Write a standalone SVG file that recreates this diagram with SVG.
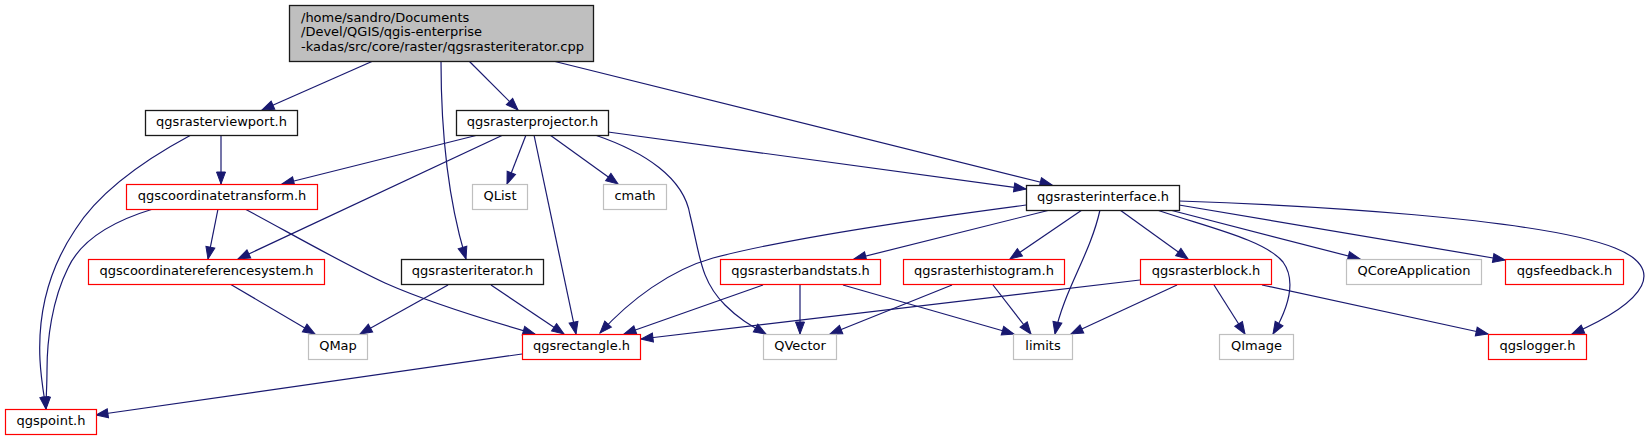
<svg xmlns="http://www.w3.org/2000/svg" width="1647" height="440" viewBox="0 0 1647 440">
<style>
text{font-family:"DejaVu Sans","Liberation Sans",sans-serif;font-size:13px;fill:#000}
.n text{text-anchor:middle}
.b{fill:#fff;stroke:#1a1a1a;stroke-width:1.3}
.r{fill:#fff;stroke:#ff0000;stroke-width:1.2}
.g{fill:#fff;stroke:#bfbfbf;stroke-width:1.2}
.root{fill:#bfbfbf;stroke:#1a1a1a;stroke-width:1.3}
#edges path{fill:none;stroke:#191970;stroke-width:1.2;marker-end:url(#ah)}
</style>
<defs>
<marker id="ah" markerUnits="userSpaceOnUse" markerWidth="13" markerHeight="10" refX="12" refY="4.5" orient="auto" overflow="visible">
<path d="M0,0 L12,4.5 L0,9 z" fill="#191970" stroke="#191970" stroke-width="1"/>
</marker>
</defs>
<rect width="1647" height="440" fill="#fff"/>
<g id="edges">
<path d="M373,61 L262,110"/>
<path d="M469,61 L518,110"/>
<path d="M441,61 C441,130 448,200 466,259"/>
<path d="M553,61 L1052,185"/>
<path d="M221,135 L221,184"/>
<path d="M191,135 C150,157 100,190 75,230 C45,275 38,320 40,360 C41,380 44,395 46,409"/>
<path d="M218,209 L208,259"/>
<path d="M153,209 C110,222 80,242 68,268 C52,300 47,340 47,370 C47,385 46,398 46,409"/>
<path d="M245,209 C290,233 340,262 385,283 C430,303 500,324 535,334"/>
<path d="M478,135 L282,184"/>
<path d="M503,135 L238,259"/>
<path d="M526,135 L507,184"/>
<path d="M534,135 L576,334"/>
<path d="M550,135 L618,184"/>
<path d="M595,135 C645,152 684,178 690,215 C700,255 700,280 725,305 C740,320 752,326 766,334"/>
<path d="M608,132 L1026,189"/>
<path d="M448,285 L360,334"/>
<path d="M491,285 L564,334"/>
<path d="M230,284 L315,334"/>
<path d="M522,354 L96,415"/>
<path d="M1026,205 C950,215 800,235 713,258 C670,270 630,300 600,333"/>
<path d="M1050,210 L854,259"/>
<path d="M1082,210 L1010,259"/>
<path d="M1100,210 C1090,255 1064,290 1055,334"/>
<path d="M1120,210 L1188,259"/>
<path d="M1157,210 C1210,228 1265,240 1283,262 C1296,280 1290,305 1273,334"/>
<path d="M1170,210 L1360,259"/>
<path d="M1179,205 L1505,260"/>
<path d="M1179,201 C1300,205 1540,218 1615,248 C1665,268 1650,300 1572,334"/>
<path d="M763,285 L624,334"/>
<path d="M800,285 L800,334"/>
<path d="M843,285 L1014,334"/>
<path d="M952,285 L830,334"/>
<path d="M993,285 L1031,334"/>
<path d="M1140,280 L641,339"/>
<path d="M1177,285 L1071,334"/>
<path d="M1214,285 L1245,334"/>
<path d="M1262,285 L1488,334"/>
</g>
<g id="root"><rect class="root" x="289.5" y="5.5" width="304" height="56"/>
<text x="301" y="21.5">/home/sandro/Documents</text>
<text x="301" y="36">/Devel/QGIS/qgis-enterprise</text>
<text x="301" y="50.5">-kadas/src/core/raster/qgsrasteriterator.cpp</text></g>
<g class="n" id="viewport"><rect class="b" x="145.5" y="110.5" width="152" height="25"/><text x="221.5" y="126">qgsrasterviewport.h</text></g>
<g class="n" id="projector"><rect class="b" x="456.5" y="110.5" width="152" height="25"/><text x="532.5" y="126">qgsrasterprojector.h</text></g>
<g class="n" id="interface"><rect class="b" x="1026.5" y="185.5" width="153" height="25"/><text x="1103" y="201">qgsrasterinterface.h</text></g>
<g class="n" id="coordtransform"><rect class="r" x="126.5" y="184.5" width="191" height="25"/><text x="222" y="200">qgscoordinatetransform.h</text></g>
<g class="n" id="qlist"><rect class="g" x="472.5" y="184.5" width="55" height="25"/><text x="500" y="200">QList</text></g>
<g class="n" id="cmath"><rect class="g" x="603.5" y="184.5" width="63" height="25"/><text x="635" y="200">cmath</text></g>
<g class="n" id="crs"><rect class="r" x="88.5" y="259.5" width="236" height="25"/><text x="206.5" y="275">qgscoordinatereferencesystem.h</text></g>
<g class="n" id="iterator"><rect class="b" x="401.5" y="259.5" width="142" height="25"/><text x="472.5" y="275">qgsrasteriterator.h</text></g>
<g class="n" id="bandstats"><rect class="r" x="720.5" y="259.5" width="160" height="25"/><text x="800.5" y="275">qgsrasterbandstats.h</text></g>
<g class="n" id="histogram"><rect class="r" x="903.5" y="259.5" width="161" height="25"/><text x="984" y="275">qgsrasterhistogram.h</text></g>
<g class="n" id="block"><rect class="r" x="1140.5" y="259.5" width="131" height="25"/><text x="1206" y="275">qgsrasterblock.h</text></g>
<g class="n" id="qcoreapp"><rect class="g" x="1346.5" y="259.5" width="135" height="25"/><text x="1414" y="275">QCoreApplication</text></g>
<g class="n" id="feedback"><rect class="r" x="1505.5" y="259.5" width="118" height="25"/><text x="1564.5" y="275">qgsfeedback.h</text></g>
<g class="n" id="qmap"><rect class="g" x="308.5" y="334.5" width="59" height="25"/><text x="338" y="350">QMap</text></g>
<g class="n" id="rectangle"><rect class="r" x="522.5" y="334.5" width="118" height="25"/><text x="581.5" y="350">qgsrectangle.h</text></g>
<g class="n" id="qvector"><rect class="g" x="763.5" y="334.5" width="73" height="25"/><text x="800" y="350">QVector</text></g>
<g class="n" id="limits"><rect class="g" x="1013.5" y="334.5" width="59" height="25"/><text x="1043" y="350">limits</text></g>
<g class="n" id="qimage"><rect class="g" x="1219.5" y="334.5" width="74" height="25"/><text x="1256.5" y="350">QImage</text></g>
<g class="n" id="logger"><rect class="r" x="1488.5" y="334.5" width="98" height="25"/><text x="1537.5" y="350">qgslogger.h</text></g>
<g class="n" id="point"><rect class="r" x="5.5" y="409.5" width="91" height="25"/><text x="51" y="425">qgspoint.h</text></g>
</svg>
